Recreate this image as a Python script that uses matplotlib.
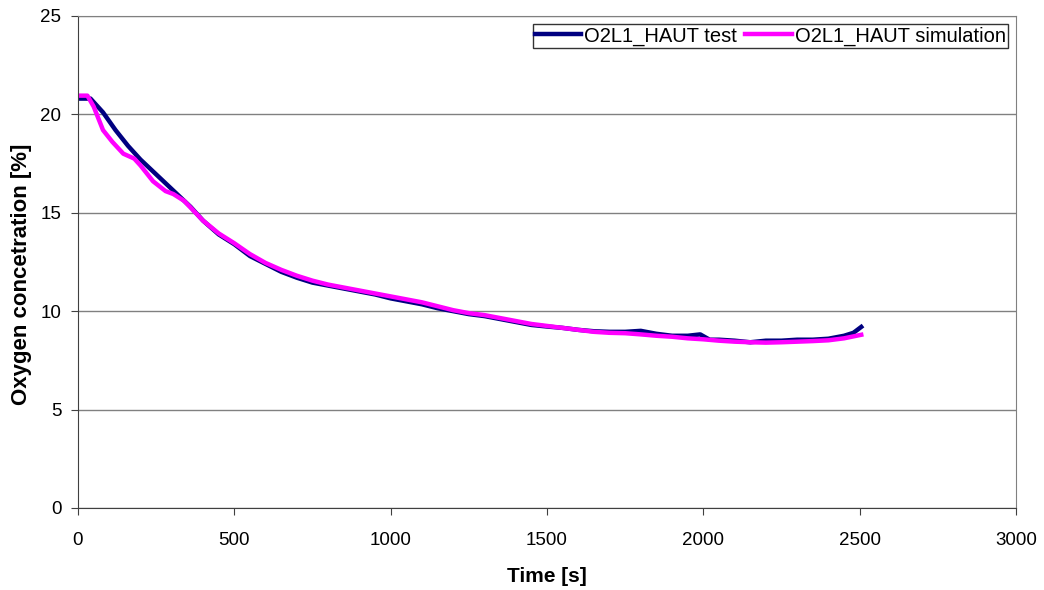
import matplotlib
matplotlib.use("Agg")
import matplotlib.pyplot as plt

plt.rcParams['font.family'] = ['Liberation Sans', 'DejaVu Sans']

# values
t_test = [0, 40, 80, 120, 160, 200, 240, 280, 320, 360, 400, 450, 500, 550, 600,
          650, 700, 750, 800, 850, 900, 950, 1000, 1050, 1100, 1150, 1200, 1250,
          1300, 1350, 1400, 1450, 1500, 1550, 1600, 1650, 1700, 1750, 1800, 1850,
          1900, 1950, 1990, 2020, 2050, 2100, 2150, 2200, 2250, 2300, 2350, 2400,
          2450, 2480, 2505]
o2_test = [20.8, 20.8, 20.1, 19.2, 18.4, 17.7, 17.1, 16.5, 15.9, 15.3, 14.6, 13.9,
           13.4, 12.8, 12.4, 12.0, 11.7, 11.45, 11.3, 11.15, 11.0, 10.85, 10.65,
           10.5, 10.35, 10.15, 10.0, 9.85, 9.75, 9.6, 9.45, 9.3, 9.22, 9.15, 9.05,
           8.98, 8.95, 8.95, 9.0, 8.85, 8.75, 8.75, 8.82, 8.55, 8.55, 8.5, 8.42,
           8.5, 8.5, 8.55, 8.55, 8.6, 8.75, 8.9, 9.2]

t_sim = [0, 30, 50, 80, 110, 145, 180, 200, 240, 280, 305, 340, 370, 400, 450, 500,
         550, 600, 650, 700, 750, 800, 850, 900, 950, 1000, 1050, 1100, 1150, 1200,
         1250, 1300, 1350, 1400, 1450, 1500, 1550, 1600, 1650, 1700, 1750, 1800,
         1850, 1900, 1950, 2000, 2050, 2100, 2150, 2200, 2250, 2300, 2350, 2400,
         2450, 2505]
o2_sim = [20.95, 20.95, 20.4, 19.2, 18.6, 18.0, 17.75, 17.4, 16.6, 16.1, 15.95, 15.6,
          15.1, 14.6, 13.95, 13.45, 12.9, 12.45, 12.1, 11.8, 11.55, 11.35, 11.2,
          11.05, 10.9, 10.75, 10.6, 10.45, 10.25, 10.05, 9.9, 9.8, 9.65, 9.5, 9.35,
          9.25, 9.15, 9.05, 8.95, 8.9, 8.88, 8.82, 8.75, 8.7, 8.62, 8.57, 8.5, 8.45,
          8.42, 8.4, 8.42, 8.45, 8.48, 8.52, 8.62, 8.8]

fig = plt.figure(figsize=(10.44, 5.90), dpi=100)
ax = fig.add_axes([0.0747, 0.139, 0.8985, 0.834])

ax.plot(t_test, o2_test, color='#000080', lw=3.2, label='O2L1_HAUT test')
ax.plot(t_sim, o2_sim, color='#FF00FF', lw=3.2, label='O2L1_HAUT simulation')

ax.set_xlim(0, 3000)
ax.set_ylim(0, 25)
ax.set_xticks(range(0, 3001, 500))
ax.set_yticks(range(0, 26, 5))
ax.yaxis.grid(True, color='#808080', lw=1)
ax.set_axisbelow(True)

for s in ['top', 'right']:
    ax.spines[s].set_color('#808080')
for s in ['left', 'bottom']:
    ax.spines[s].set_color('#404040')
ax.tick_params(direction='out', length=5, labelsize=13.5, color='#404040')
ax.tick_params(axis='x', pad=12.5)
ax.tick_params(axis='y', pad=7)

ax.set_xlabel('Time [s]', fontsize=15, fontweight='bold', labelpad=13)
ax.set_ylabel('Oxygen concetration [%]', fontsize=16, fontweight='bold')
ax.yaxis.set_label_coords(-0.049, 0.475)

leg = ax.legend(loc='upper right', ncol=2, fontsize=14.5, frameon=True, fancybox=False,
                handlelength=2.3, handletextpad=0.15, columnspacing=0.4,
                borderpad=0.12, borderaxespad=0.4)
leg.get_frame().set_edgecolor('black')
leg.get_frame().set_linewidth(1)

fig.savefig('out.png', dpi=100)
